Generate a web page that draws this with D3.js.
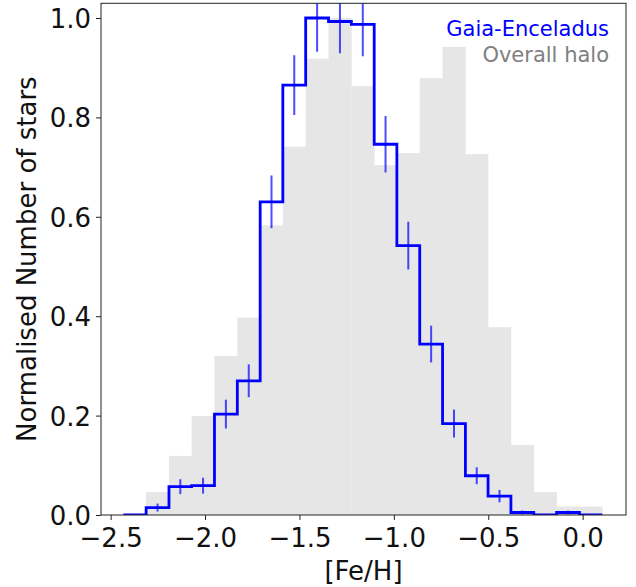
<!DOCTYPE html>
<html>
<head>
<meta charset="utf-8">
<script src="https://cdn.jsdelivr.net/npm/d3@7"></script>
<style>
  html, body { margin: 0; padding: 0; background: #fff; }
  svg { display: block; font-family: "DejaVu Sans", sans-serif; }
</style>
</head>
<body>
<svg id="chart" width="636" height="587"></svg>
<script>
// ---- data ----
const binEdges = [-2.433, -2.312, -2.191, -2.071, -1.950, -1.829, -1.708, -1.588, -1.467,
  -1.346, -1.225, -1.104, -0.984, -0.863, -0.742, -0.621, -0.501, -0.380, -0.259,
  -0.138, -0.017, 0.104];
const haloValues = [0.0, 0.046, 0.119, 0.199, 0.32, 0.397, 0.583, 0.741, 0.918, 1.0,
  0.863, 0.704, 0.728, 0.879, 0.942, 0.726, 0.378, 0.141, 0.046, 0.017, 0.017];
const geValues = [0.0, 0.015, 0.057, 0.059, 0.203, 0.270, 0.630, 0.865, 1.0, 0.993,
  0.987, 0.746, 0.542, 0.344, 0.184, 0.079, 0.038, 0.005, 0.0, 0.005, 0.0];
const geErrors = [0.0, 0.008, 0.015, 0.016, 0.029, 0.033, 0.053, 0.06, 0.068, 0.064,
  0.064, 0.057, 0.048, 0.037, 0.028, 0.017, 0.0125, 0.004, 0.0, 0.004, 0.0];
const xTicks = [-2.5, -2.0, -1.5, -1.0, -0.5, 0.0];
const yTicks = [0.0, 0.2, 0.4, 0.6, 0.8, 1.0];
const xDomain = [-2.551, 0.2295];
const yDomain = [0, 1.0296];
const legendLabels = ["Gaia-Enceladus", "Overall halo"];
const legendColors = ["#0000ff", "#808080"];

// ---- layout ----
const svg = d3.select("#chart");
const mLeft = 101, mRight = 626, mTop = 3.3, mBottom = 515;
const x = d3.scaleLinear().domain(xDomain).range([mLeft, mRight]);
const y = d3.scaleLinear().domain(yDomain).range([mBottom, mTop]);

svg.append("defs").append("clipPath").attr("id", "clip")
  .append("rect").attr("x", mLeft).attr("y", mTop)
  .attr("width", mRight - mLeft).attr("height", mBottom - mTop);

const plot = svg.append("g").attr("clip-path", "url(#clip)");

const bins = haloValues.map((v, i) => ({
  x0: binEdges[i], x1: binEdges[i + 1], halo: v, ge: geValues[i], err: geErrors[i]
}));

// gray halo histogram
plot.selectAll("rect.halo").data(bins).enter().append("rect")
  .attr("class", "halo")
  .attr("x", d => x(d.x0))
  .attr("width", d => x(d.x1) - x(d.x0) + 0.3)
  .attr("y", d => y(d.halo))
  .attr("height", d => y(0) - y(d.halo))
  .attr("fill", "#e6e6e6");

// blue step line
let path = d3.path();
path.moveTo(x(bins[0].x0), y(bins[0].ge));
bins.forEach((d, i) => {
  if (i > 0) path.lineTo(x(d.x0), y(d.ge));
  path.lineTo(x(d.x1), y(d.ge));
});
plot.append("path").attr("d", path.toString())
  .attr("fill", "none").attr("stroke", "#0000ff").attr("stroke-width", 2.8)
  .attr("stroke-linejoin", "miter");

// error bars
plot.selectAll("line.err").data(bins.filter(d => d.err > 0)).enter().append("line")
  .attr("class", "err")
  .attr("x1", d => x((d.x0 + d.x1) / 2)).attr("x2", d => x((d.x0 + d.x1) / 2))
  .attr("y1", d => y(d.ge - d.err)).attr("y2", d => y(d.ge + d.err))
  .attr("stroke", "#0000ff").attr("stroke-opacity", 0.7).attr("stroke-width", 2);

// frame
svg.append("rect").attr("x", mLeft).attr("y", mTop)
  .attr("width", mRight - mLeft).attr("height", mBottom - mTop)
  .attr("fill", "none").attr("stroke", "#222").attr("stroke-width", 1);

// x axis
const xAxis = d3.axisBottom(x).tickValues(xTicks).tickSize(5).tickPadding(8)
  .tickFormat(d => d3.format(".1f")(d).replace("-", "\u2212"));
const gx = svg.append("g").attr("transform", `translate(0,${mBottom})`).call(xAxis);
gx.select(".domain").remove();
gx.selectAll(".tick line").attr("stroke", "#222");
gx.selectAll(".tick text").attr("font-size", 26).attr("fill", "#111")
  .attr("font-family", "DejaVu Sans").attr("dy", null).attr("y", 32);

// y axis
const yAxis = d3.axisLeft(y).tickValues(yTicks).tickSize(5).tickPadding(6)
  .tickFormat(d3.format(".1f"));
const gy = svg.append("g").attr("transform", `translate(${mLeft},0)`).call(yAxis);
gy.select(".domain").remove();
gy.selectAll(".tick line").attr("stroke", "#222");
gy.selectAll(".tick text").attr("font-size", 26).attr("fill", "#111")
  .attr("font-family", "DejaVu Sans").attr("dy", null).attr("y", 9.5).attr("x", -10);

// axis labels
svg.append("text").attr("x", (mLeft + mRight) / 2).attr("y", 580)
  .attr("text-anchor", "middle").attr("font-size", 26).attr("fill", "#111")
  .text("[Fe/H]");
svg.append("text").attr("transform", `translate(36,${(mTop + mBottom) / 2}) rotate(-90)`)
  .attr("text-anchor", "middle").attr("font-size", 26).attr("fill", "#111")
  .text("Normalised Number of stars");

// legend text
svg.selectAll("text.leg").data(legendLabels).enter().append("text")
  .attr("class", "leg")
  .attr("x", 609).attr("y", (d, i) => 35.5 + i * 26)
  .attr("text-anchor", "end").attr("font-size", 21)
  .attr("fill", (d, i) => legendColors[i])
  .text(d => d);
</script>
</body>
</html>
